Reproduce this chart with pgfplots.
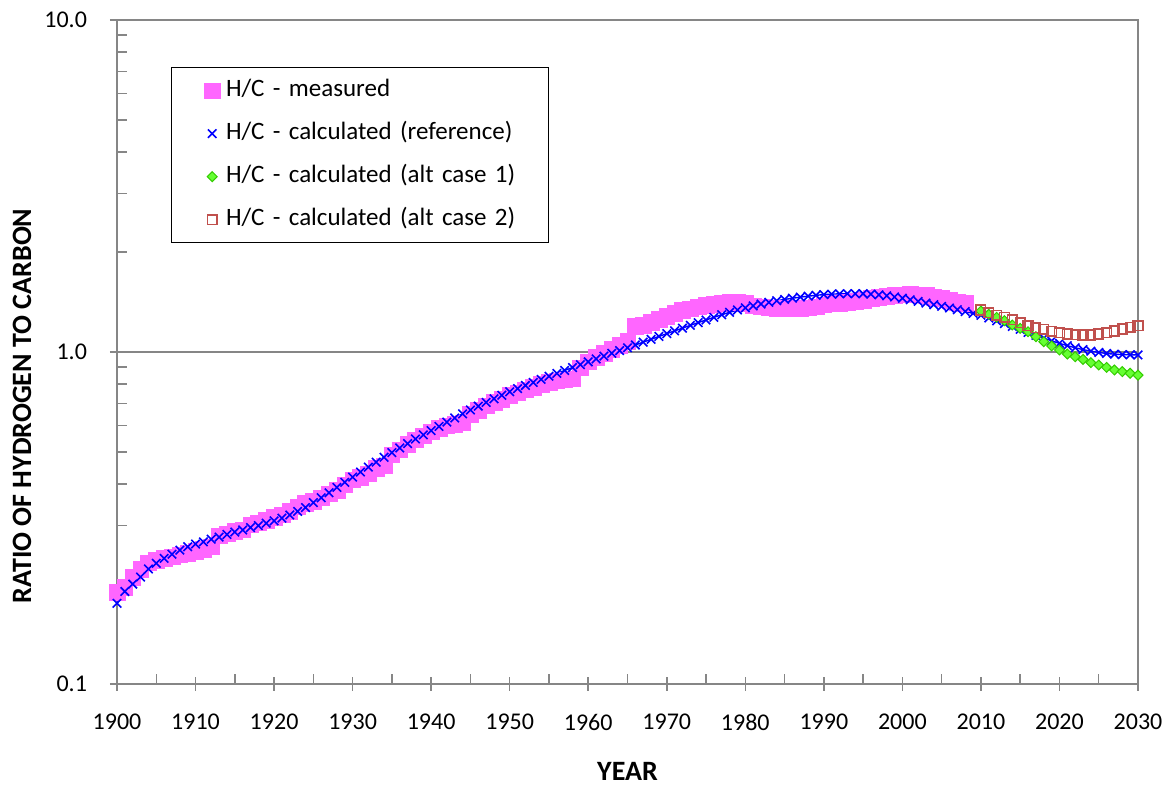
\documentclass[border=0pt]{standalone}
\usepackage{pgfplots}
\usepackage{pgfplotstable}
\pgfplotsset{compat=1.18}
\usepackage{fontspec}
\setmainfont{Carlito}

\definecolor{measpink}{RGB}{255,102,255}
\definecolor{refblue}{RGB}{0,0,255}
\definecolor{altgreen}{RGB}{102,255,51}
\definecolor{altgreenedge}{RGB}{51,204,0}
\definecolor{altred}{RGB}{192,80,77}
\definecolor{axisgray}{RGB}{134,134,134}

% H/C ratio, measured
\pgfplotstableread{
year hc
1900 0.189
1901 0.196
1902 0.210
1903 0.222
1904 0.232
1905 0.236
1906 0.239
1907 0.242
1908 0.245
1909 0.248
1910 0.251
1911 0.255
1912 0.259
1913 0.280
1914 0.284
1915 0.288
1916 0.292
1917 0.302
1918 0.306
1919 0.312
1920 0.318
1921 0.324
1922 0.332
1923 0.342
1924 0.350
1925 0.356
1926 0.364
1927 0.374
1928 0.384
1929 0.398
1930 0.412
1931 0.420
1932 0.430
1933 0.446
1934 0.455
1935 0.490
1936 0.508
1937 0.528
1938 0.545
1939 0.560
1940 0.575
1941 0.590
1942 0.600
1943 0.605
1944 0.612
1945 0.650
1946 0.668
1947 0.690
1948 0.706
1949 0.722
1950 0.740
1951 0.755
1952 0.770
1953 0.785
1954 0.800
1955 0.812
1956 0.820
1957 0.826
1958 0.832
1959 0.898
1960 0.935
1961 0.965
1962 0.990
1963 1.020
1964 1.050
1965 1.080
1966 1.195
1967 1.205
1968 1.230
1969 1.255
1970 1.280
1971 1.310
1972 1.335
1973 1.350
1974 1.370
1975 1.385
1976 1.395
1977 1.405
1978 1.410
1979 1.414
1980 1.405
1981 1.380
1982 1.370
1983 1.360
1984 1.356
1985 1.355
1986 1.355
1987 1.357
1988 1.360
1989 1.370
1990 1.390
1991 1.400
1992 1.405
1993 1.410
1994 1.420
1995 1.435
1996 1.450
1997 1.465
1998 1.475
1999 1.485
2000 1.490
2001 1.492
2002 1.488
2003 1.480
2004 1.465
2005 1.450
2006 1.430
2007 1.415
2008 1.400
}\measured

% H/C ratio, calculated (reference)
\pgfplotstableread{
year hc
1900 0.175
1901 0.190
1902 0.200
1903 0.210
1904 0.222
1905 0.231
1906 0.239
1907 0.246
1908 0.253
1909 0.259
1910 0.264
1911 0.268
1912 0.273
1913 0.277
1914 0.282
1915 0.287
1916 0.291
1917 0.296
1918 0.300
1919 0.305
1920 0.310
1921 0.316
1922 0.323
1923 0.331
1924 0.340
1925 0.352
1926 0.364
1927 0.377
1928 0.391
1929 0.405
1930 0.420
1931 0.435
1932 0.450
1933 0.466
1934 0.482
1935 0.498
1936 0.514
1937 0.530
1938 0.547
1939 0.563
1940 0.580
1941 0.597
1942 0.615
1943 0.633
1944 0.651
1945 0.669
1946 0.687
1947 0.705
1948 0.723
1949 0.741
1950 0.759
1951 0.776
1952 0.793
1953 0.810
1954 0.827
1955 0.845
1956 0.862
1957 0.880
1958 0.898
1959 0.916
1960 0.934
1961 0.953
1962 0.972
1963 0.991
1964 1.010
1965 1.030
1966 1.050
1967 1.071
1968 1.092
1969 1.114
1970 1.136
1971 1.158
1972 1.180
1973 1.203
1974 1.226
1975 1.249
1976 1.272
1977 1.295
1978 1.317
1979 1.338
1980 1.358
1981 1.377
1982 1.395
1983 1.412
1984 1.427
1985 1.440
1986 1.452
1987 1.463
1988 1.473
1989 1.482
1990 1.489
1991 1.494
1992 1.497
1993 1.499
1994 1.499
1995 1.498
1996 1.494
1997 1.487
1998 1.477
1999 1.465
2000 1.452
2001 1.437
2002 1.421
2003 1.404
2004 1.388
2005 1.372
2006 1.357
2007 1.341
2008 1.324
2009 1.307
2010 1.290
2011 1.266
2012 1.242
2013 1.218
2014 1.194
2015 1.170
2016 1.146
2017 1.123
2018 1.101
2019 1.081
2020 1.062
2021 1.045
2022 1.030
2023 1.017
2024 1.006
2025 0.997
2026 0.990
2027 0.985
2028 0.982
2029 0.981
2030 0.980
}\reference

% H/C ratio, calculated (alt case 1)
\pgfplotstableread{
year hc
2010 1.329
2011 1.299
2012 1.272
2013 1.243
2014 1.206
2015 1.178
2016 1.151
2017 1.112
2018 1.074
2019 1.043
2020 1.014
2021 0.986
2022 0.968
2023 0.950
2024 0.929
2025 0.914
2026 0.899
2027 0.883
2028 0.873
2029 0.863
2030 0.852
}\altone

% H/C ratio, calculated (alt case 2)
\pgfplotstableread{
year hc
2010 1.338
2011 1.314
2012 1.292
2013 1.272
2014 1.249
2015 1.226
2016 1.200
2017 1.184
2018 1.170
2019 1.154
2020 1.144
2021 1.133
2022 1.128
2023 1.125
2024 1.125
2025 1.133
2026 1.144
2027 1.157
2028 1.173
2029 1.187
2030 1.200
}\alttwo

\begin{document}
\begin{tikzpicture}
\begin{axis}[
  scale only axis,
  width=510.5pt, height=332pt,
  xmin=1900, xmax=2030,
  ymode=log, ymin=0.1, ymax=10,
  clip=false,
  font=\fontsize{12}{14.4}\selectfont,
  axis line style={axisgray, line width=0.75pt},
  xtick pos=bottom, ytick pos=left,
  xtick={1900,1910,...,2030},
  xticklabels={1900,1910,1920,1930,1940,1950,1960,1970,1980,1990,2000,2010,2020,2030},
  minor xtick={1905,1915,...,2025},
  ytick={0.1,1,10},
  yticklabels={0.1,1.0,10.0},
  minor ytick={0.2,0.3,0.4,0.5,0.6,0.7,0.8,0.9,2,3,4,5,6,7,8,9},
  ymajorgrids,
  major grid style={axisgray, line width=0.75pt},
  tick style={axisgray, line width=0.75pt},
  tick align=center,
  major tick length=7pt,
  minor tick length=5pt,
  minor x tick style={yshift=2.5pt},
  minor y tick style={xshift=2.5pt},
  xticklabel style={yshift=-8pt},
  yticklabel style={xshift=-8pt},
  xlabel={\fontsize{14}{16.8}\selectfont\bfseries YEAR},
  ylabel={\fontsize{14}{16.8}\selectfont\bfseries RATIO OF HYDROGEN TO CARBON},
  xlabel style={at={(axis description cs:0.5,-0.131)}, anchor=center},
  ylabel style={at={(axis description cs:-0.093,0.4187)}, anchor=center},
  legend cell align=left,
  legend image code/.code={\path (-20pt,0pt) (3pt,0pt); \draw[#1] plot coordinates {(0pt,0pt)};},
  legend style={
    at={(0.0529,0.929)}, anchor=north west,
    draw=black, line width=0.5pt,
    inner xsep=0pt, inner ysep=0.75pt, row sep=0pt,
    font=\fontsize{12.5}{15}\selectfont,
    nodes={inner xsep=3pt, inner ysep=4.75pt, text height=9pt, text depth=3pt, text width=158pt},
  },
]
\addplot[only marks, mark=square*, mark size=3.9pt,
  mark options={draw=measpink, fill=measpink, line width=0.2pt}]
  table[x=year, y=hc] {\measured};
\addlegendentry{H/C - measured}

\addplot[refblue, line width=0.7pt, mark=x, mark size=3pt,
  mark options={refblue, line width=0.8pt}]
  table[x=year, y=hc] {\reference};
\addlegendentry{H/C - calculated (reference)}

\addplot[only marks, mark=square*, mark size=1.75pt,
  mark options={rotate=45, draw=altgreenedge, fill=altgreen, line width=0.5pt}]
  table[x=year, y=hc] {\altone};
\addlegendentry{H/C - calculated (alt case 1)}

\addplot[only marks, mark=square, mark size=2.4pt,
  mark options={draw=altred, fill=white, line width=0.75pt}]
  table[x=year, y=hc] {\alttwo};
\addlegendentry{H/C - calculated (alt case 2)}
\end{axis}
\pgfresetboundingbox
\useasboundingbox (-58.5pt,-52.5pt) rectangle (528.5pt,342pt);
\end{tikzpicture}
\end{document}
